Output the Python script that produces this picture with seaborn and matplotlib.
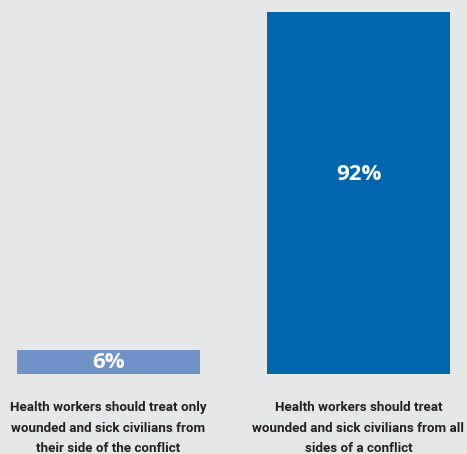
import pandas as pd
import matplotlib.pyplot as plt
import seaborn as sns

# ---- Données ----
categories = [
    "Health workers should treat only\nwounded and sick civilians from\ntheir side of the conflict",
    "Health workers should treat\nwounded and sick civilians from all\nsides of a conflict",
]
values = [6, 92]
value_labels = ["6%", "92%"]
bar_colors = ["#6f93c8", "#0066ad"]

df = pd.DataFrame({"categorie": categories, "pourcentage": values})

bg = "#e6e7e8"
sns.set_style("white")

fig = plt.figure(figsize=(4.67, 4.54), dpi=100, facecolor=bg)
ax = fig.add_axes([0, 0.176, 1, 0.824], facecolor=bg)

sns.barplot(data=df, x="categorie", y="pourcentage", hue="categorie",
            palette=bar_colors, width=0.732, saturation=1, legend=False,
            linewidth=0, ax=ax)

ax.set_xlim(-0.434, 1.434)
ax.set_ylim(0, 95.05)
ax.set_xlabel("")
ax.set_ylabel("")
ax.set_yticks([])
for s in ax.spines.values():
    s.set_visible(False)

# Étiquettes de catégories
ax.tick_params(axis="x", length=0, pad=19.5)
for lab in ax.get_xticklabels():
    lab.set_family(["Roboto", "DejaVu Sans"])
    lab.set_fontweight("bold")
    lab.set_fontsize(9.6)
    lab.set_color("#231f20")
    lab.set_linespacing(1.76)
    lab.set_va("top")

# Valeurs dans les barres
for i, (v, txt) in enumerate(zip(values, value_labels)):
    y = v / 2 if v < 20 else v * 0.55
    ax.text(i, y, txt, ha="center", va="center", color="white",
            fontsize=16, fontweight="bold", family=["Open Sans", "DejaVu Sans"])

fig.savefig("out.png", dpi=100, facecolor=bg)
plt.close(fig)
